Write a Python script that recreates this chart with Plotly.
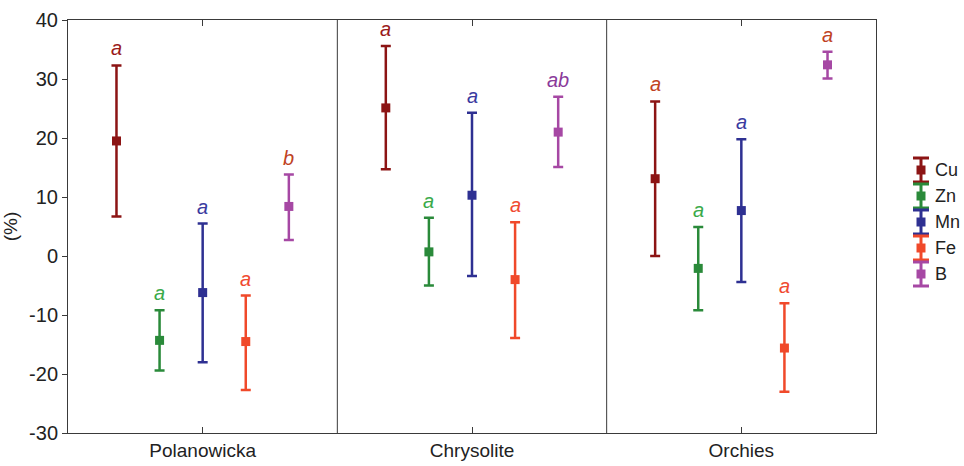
import plotly.graph_objects as go

sites = ["Polanowicka", "Chrysolite", "Orchies"]
elements = ["Cu", "Zn", "Mn", "Fe", "B"]

# mean, upper limit, lower limit per element, per site
mean = {
    "Cu": [19.5, 25.1, 13.1],
    "Zn": [-14.3, 0.7, -2.1],
    "Mn": [-6.2, 10.3, 7.7],
    "Fe": [-14.5, -4.0, -15.6],
    "B":  [8.4, 21.0, 32.4],
}
upper = {
    "Cu": [32.3, 35.6, 26.2],
    "Zn": [-9.2, 6.5, 4.9],
    "Mn": [5.5, 24.3, 19.8],
    "Fe": [-6.7, 5.7, -8.0],
    "B":  [13.8, 27.0, 34.6],
}
lower = {
    "Cu": [6.7, 14.7, 0.0],
    "Zn": [-19.4, -5.0, -9.2],
    "Mn": [-18.0, -3.4, -4.4],
    "Fe": [-22.7, -13.9, -23.0],
    "B":  [2.7, 15.1, 30.1],
}
letters = {
    "Cu": ["a", "a", "a"],
    "Zn": ["a", "a", "a"],
    "Mn": ["a", "a", "a"],
    "Fe": ["a", "a", "a"],
    "B":  ["b", "ab", "a"],
}
y_ticks = [-30, -20, -10, 0, 10, 20, 30, 40]
y_ticktext = ["-30", "-20", "-10", "0", "10", "20", "30", "40"]

colors = {"Cu": "#8c1414", "Zn": "#2a8a3a", "Mn": "#2e3092", "Fe": "#f0492a", "B": "#a648a4"}
letter_colors = {
    "Cu": ["#9a1a1a", "#9a1a1a", "#c0431f"],
    "Zn": ["#3aaa4a", "#3aaa4a", "#3aaa4a"],
    "Mn": ["#3a3aa0", "#3a3aa0", "#3a3aa0"],
    "Fe": ["#f04a30", "#f04a30", "#f04a30"],
    "B":  ["#c0431f", "#8a3a9a", "#c0431f"],
}
offsets = [-0.32, -0.16, 0.0, 0.16, 0.32]

FONT = "Liberation Sans Narrow, Liberation Sans, Arial, sans-serif"
AXCOL = "#3a3a3a"

W, H = 964, 466
ML, MR, MT, MB = 68, 88, 20, 33
PW, PH = W - ML - MR, H - MT - MB


def px_to_paper_x(px):
    return (px - ML) / PW


def px_to_paper_y(py):
    return (H - MB - py) / PH


fig = go.Figure()
annotations = []
for j, el in enumerate(elements):
    xs = [i + offsets[j] for i in range(len(sites))]
    m = mean[el]
    up = [u - v for u, v in zip(upper[el], m)]
    dn = [v - l for v, l in zip(m, lower[el])]
    fig.add_trace(go.Scatter(
        x=xs, y=m, mode="markers", name=el, showlegend=False,
        marker=dict(symbol="square", size=9, color=colors[el]),
        error_y=dict(type="data", symmetric=False, array=up, arrayminus=dn,
                     color=colors[el], thickness=2.5, width=5),
    ))
    for i in range(len(sites)):
        annotations.append(dict(
            x=xs[i], y=upper[el][i], xref="x", yref="y",
            text="<i>" + letters[el][i] + "</i>", showarrow=False,
            yanchor="bottom", yshift=4,
            font=dict(family=FONT, size=20, color=letter_colors[el][i]),
        ))

shapes = []
for i in range(len(sites) - 1):
    shapes.append(dict(type="line", xref="x", yref="paper", x0=i + 0.5, x1=i + 0.5,
                       y0=0, y1=1, line=dict(color=AXCOL, width=1)))

# legend (error-bar glyph + square marker + label)
LEG_X, LEG_Y0, LEG_DY = 921, 170, 26
CAP_HW, BAR_HH, SQ_H = 8, 12, 4.5
for j, el in enumerate(elements):
    cy = LEG_Y0 + j * LEG_DY
    c = colors[el]
    xc = px_to_paper_x(LEG_X)
    shapes.append(dict(type="line", xref="paper", yref="paper", x0=xc, x1=xc,
                       y0=px_to_paper_y(cy - BAR_HH), y1=px_to_paper_y(cy + BAR_HH),
                       line=dict(color=c, width=3)))
    for dy in (-BAR_HH, BAR_HH):
        shapes.append(dict(type="line", xref="paper", yref="paper",
                           x0=px_to_paper_x(LEG_X - CAP_HW), x1=px_to_paper_x(LEG_X + CAP_HW),
                           y0=px_to_paper_y(cy + dy), y1=px_to_paper_y(cy + dy),
                           line=dict(color=c, width=3)))
    shapes.append(dict(type="rect", xref="paper", yref="paper",
                       x0=px_to_paper_x(LEG_X - SQ_H), x1=px_to_paper_x(LEG_X + SQ_H),
                       y0=px_to_paper_y(cy + SQ_H), y1=px_to_paper_y(cy - SQ_H),
                       fillcolor=c, line=dict(width=0)))
    annotations.append(dict(x=px_to_paper_x(LEG_X + 12), y=px_to_paper_y(cy),
                            xref="paper", yref="paper", text=el, showarrow=False,
                            xanchor="left", yanchor="middle",
                            font=dict(family=FONT, size=18, color="#222222")))

fig.update_layout(
    width=W, height=H,
    margin=dict(l=ML, r=MR, t=MT, b=MB, autoexpand=False),
    plot_bgcolor="white", paper_bgcolor="white",
    font=dict(family=FONT, size=19, color="#222222"),
    showlegend=False,
    annotations=annotations,
    shapes=shapes,
    xaxis=dict(range=[-0.5, len(sites) - 0.5], tickmode="array",
               tickvals=list(range(len(sites))), ticktext=sites,
               ticks="inside", ticklen=6, tickcolor=AXCOL,
               showline=True, linecolor=AXCOL, linewidth=1, mirror="ticks",
               showgrid=False, zeroline=False, tickfont=dict(size=19)),
    yaxis=dict(range=[-30, 40], tickmode="array", tickvals=y_ticks, ticktext=y_ticktext,
               ticks="outside", ticklen=5, tickcolor=AXCOL,
               showline=True, linecolor=AXCOL, linewidth=1, mirror=True,
               showgrid=False, zeroline=False,
               title=dict(text="(%)", standoff=6, font=dict(size=19)),
               tickfont=dict(size=20)),
    yaxis2=dict(range=[-30, 40], overlaying="y", side="right", tickmode="array",
                tickvals=y_ticks, ticks="inside", ticklen=5, tickcolor=AXCOL,
                showticklabels=False, showgrid=False, zeroline=False, showline=False),
)

fig.write_html("out.html")
